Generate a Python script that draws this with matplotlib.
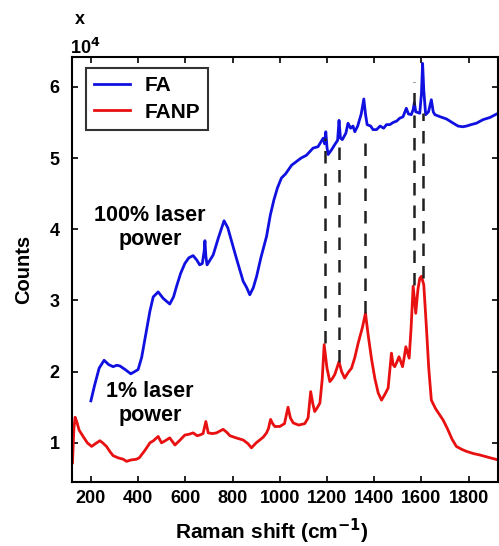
import numpy as np
import matplotlib
matplotlib.use("Agg")
import matplotlib.pyplot as plt

plt.rcParams['font.family'] = ['Liberation Sans', 'DejaVu Sans']
plt.rcParams['font.weight'] = 'bold'

# FA spectrum, 100% laser power (counts in units of 1e4)
fa_shift = [200, 215, 235, 256, 275, 294, 310, 323, 345, 369, 385, 400, 415, 436, 450,
            464, 485, 506, 520, 534, 550, 563, 580, 598, 615, 633, 648, 661, 672, 680,
            683, 687, 692, 705, 718, 740, 764, 780, 802, 820, 845, 860, 873, 888, 902,
            920, 944, 960, 975, 990, 1007, 1025, 1050, 1070, 1090, 1113, 1141, 1162, 1184,
            1190, 1195, 1200, 1205, 1220, 1233, 1245, 1251, 1257, 1265, 1280, 1289, 1300,
            1310, 1318, 1330, 1345, 1356, 1363, 1370, 1385, 1395, 1410, 1425, 1440, 1452,
            1466, 1480, 1495, 1508, 1522, 1536, 1545, 1557, 1565, 1570, 1576, 1593, 1600,
            1605, 1610, 1618, 1630, 1642, 1650, 1657, 1680, 1706, 1730, 1755, 1775, 1791,
            1810, 1833, 1861, 1890, 1925]
fa_counts = [1.59, 1.80, 2.05, 2.16, 2.10, 2.07, 2.09, 2.08, 2.03, 1.97, 2.00, 2.03, 2.20,
             2.59, 2.85, 3.05, 3.12, 3.03, 2.99, 2.95, 3.05, 3.20, 3.38, 3.52, 3.60, 3.63,
             3.57, 3.50, 3.52, 3.70, 3.84, 3.62, 3.50, 3.57, 3.64, 3.88, 4.12, 4.02, 3.76,
             3.55, 3.27, 3.18, 3.08, 3.18, 3.34, 3.60, 3.90, 4.20, 4.41, 4.58, 4.72, 4.78,
             4.90, 4.95, 5.00, 5.04, 5.14, 5.16, 5.28, 5.20, 5.37, 5.15, 5.05, 5.12, 5.19,
             5.25, 5.53, 5.28, 5.26, 5.35, 5.49, 5.42, 5.45, 5.37, 5.45, 5.62, 5.83, 5.62,
             5.47, 5.45, 5.40, 5.40, 5.45, 5.42, 5.47, 5.47, 5.50, 5.52, 5.56, 5.58, 5.70,
             5.62, 5.61, 5.68, 5.78, 5.65, 5.63, 5.90, 6.33, 5.95, 5.61, 5.65, 5.82, 5.65,
             5.61, 5.58, 5.55, 5.50, 5.45, 5.44, 5.45, 5.47, 5.49, 5.54, 5.57, 5.63]

# FANP spectrum, 1% laser power (counts in units of 1e4)
fanp_shift = [122, 128, 133, 140, 150, 167, 185, 203, 220, 238, 250, 266, 280, 294, 315,
              337, 351, 370, 393, 405, 414, 430, 450, 465, 485, 499, 515, 534, 545, 556,
              575, 598, 615, 633, 650, 661, 675, 687, 697, 715, 732, 760, 775, 789, 815,
              845, 865, 880, 900, 915, 930, 944, 952, 961, 970, 979, 1000, 1020, 1035, 1045,
              1057, 1080, 1106, 1120, 1131, 1140, 1148, 1160, 1170, 1180, 1188, 1200, 1212,
              1222, 1233, 1251, 1262, 1275, 1290, 1304, 1318, 1332, 1350, 1363, 1375, 1389,
              1403, 1417, 1431, 1445, 1459, 1473, 1480, 1487, 1498, 1505, 1520, 1527, 1534,
              1548, 1556, 1565, 1576, 1585, 1593, 1600, 1610, 1621, 1631, 1642, 1660, 1680,
              1692, 1710, 1730, 1748, 1770, 1791, 1820, 1847, 1880, 1925]
fanp_counts = [0.72, 1.20, 1.36, 1.30, 1.18, 1.09, 1.00, 0.95, 0.99, 1.03, 1.00, 0.95, 0.88,
               0.82, 0.79, 0.77, 0.74, 0.76, 0.77, 0.79, 0.83, 0.90, 1.00, 1.03, 1.09, 1.00,
               1.03, 1.07, 1.02, 0.97, 1.03, 1.11, 1.12, 1.14, 1.10, 1.11, 1.13, 1.30, 1.14,
               1.13, 1.14, 1.19, 1.15, 1.10, 1.07, 1.04, 0.99, 0.93, 1.00, 1.04, 1.08, 1.14,
               1.20, 1.33, 1.27, 1.23, 1.23, 1.27, 1.50, 1.35, 1.28, 1.25, 1.27, 1.35, 1.72,
               1.55, 1.44, 1.50, 1.56, 1.90, 2.38, 2.05, 1.86, 1.90, 1.96, 2.14, 2.00, 1.91,
               1.99, 2.05, 2.20, 2.40, 2.62, 2.82, 2.50, 2.17, 1.90, 1.70, 1.60, 1.68, 1.77,
               2.26, 2.10, 2.07, 2.15, 2.21, 2.07, 2.20, 2.35, 2.19, 2.60, 3.20, 2.82, 3.15,
               3.31, 3.34, 3.22, 2.63, 2.05, 1.60, 1.48, 1.38, 1.32, 1.20, 1.05, 0.95, 0.91,
               0.88, 0.85, 0.83, 0.80, 0.76]

# dashed guide lines linking shared peaks
peak_shift = [1190, 1252, 1362, 1570, 1606]
peak_low = [2.40, 2.14, 2.82, 3.22, 3.32]
peak_high = [5.28, 5.28, 5.32, 6.07, 5.63]

xticks = [200, 400, 600, 800, 1000, 1200, 1400, 1600, 1800]
yticks = [1, 2, 3, 4, 5, 6]

fig = plt.figure(figsize=(4.99, 5.46), dpi=100)
ax = fig.add_axes([0.1443, 0.1172, 0.854, 0.7784])

ax.vlines(peak_shift, peak_low, peak_high, colors='#202020', linestyles=(0, (5, 4)), linewidth=1.8, zorder=3)
ax.plot(fa_shift, fa_counts, color='#1010e0', linewidth=2.0, label='FA')
ax.plot(fanp_shift, fanp_counts, color='#e81010', linewidth=2.0, label='FANP')

ax.set_xlim(120, 1925)
ax.set_ylim(0.45, 6.42)
ax.set_xticks(xticks)
ax.set_yticks(yticks)
ax.tick_params(direction='in', length=4, width=1.2, top=True, right=True, labelsize=13)
ax.tick_params(axis='y', pad=9)
ax.tick_params(axis='x', pad=6)
for lab in ax.get_xticklabels() + ax.get_yticklabels():
    lab.set_fontweight('bold')
for sp in ax.spines.values():
    sp.set_linewidth(1.5)

ax.set_xlabel('Raman shift (cm$^{\\mathbf{-1}}$)', fontsize=15, fontweight='bold')
ax.xaxis.set_label_coords(0.47, -0.083)
ax.set_ylabel('Counts', fontsize=14.5, fontweight='bold', labelpad=12)

fig.text(0.16, 0.965, 'x', fontsize=13, fontweight='bold', ha='center', va='center')
fig.text(0.14, 0.912, '10$^{\\mathbf{4}}$', fontsize=13, fontweight='bold', ha='left', va='center')

ax.text(450, 4.02, '100% laser\npower', fontsize=15.5, fontweight='bold', ha='center', va='center', linespacing=1.2)
ax.text(450, 1.55, '1% laser\npower', fontsize=15.5, fontweight='bold', ha='center', va='center', linespacing=1.2)

leg = ax.legend(loc='upper left', bbox_to_anchor=(0.033, 0.974), fontsize=15, frameon=True, fancybox=False,
                edgecolor='black', handlelength=1.7, handletextpad=0.7, borderpad=0.4, labelspacing=0.35,
                borderaxespad=0)
leg.get_frame().set_linewidth(1.5)
for t in leg.get_texts():
    t.set_fontweight('bold')

fig.savefig('out.png', dpi=100)
